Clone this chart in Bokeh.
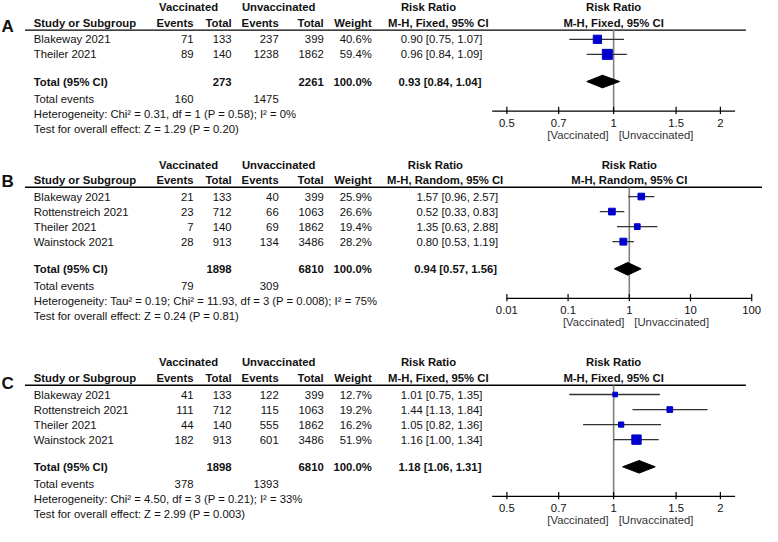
import math
from bokeh.plotting import figure
from bokeh.models import Range1d, LogScale
from bokeh.core.properties import value
from bokeh.embed import file_html
from bokeh.resources import INLINE

# ---------------- data ----------------
A_studies = ["Blakeway 2021", "Theiler 2021"]
A_vac_events = [71, 89]
A_vac_total = [133, 140]
A_unv_events = [237, 1238]
A_unv_total = [399, 1862]
A_weight = [40.6, 59.4]
A_rr = [0.90, 0.96]
A_lo = [0.75, 0.84]
A_hi = [1.07, 1.09]
A_sum = [160, 273, 1475, 2261, 0.93, 0.84, 1.04]   # vac ev, vac tot, unv ev, unv tot, rr, lo, hi
A_method = "M-H, Fixed, 95% CI"
A_het = "Heterogeneity: Chi\u00b2 = 0.31, df = 1 (P = 0.58); I\u00b2 = 0%"
A_test = "Test for overall effect: Z = 1.29 (P = 0.20)"
A_ticks = [0.5, 0.7, 1, 1.5, 2]
A_tick_labels = ["0.5", "0.7", "1", "1.5", "2"]
A_limits = [0.4545, 2.2]

B_studies = ["Blakeway 2021", "Rottenstreich 2021", "Theiler 2021", "Wainstock 2021"]
B_vac_events = [21, 23, 7, 28]
B_vac_total = [133, 712, 140, 913]
B_unv_events = [40, 66, 69, 134]
B_unv_total = [399, 1063, 1862, 3486]
B_weight = [25.9, 26.6, 19.4, 28.2]
B_rr = [1.57, 0.52, 1.35, 0.80]
B_lo = [0.96, 0.33, 0.63, 0.53]
B_hi = [2.57, 0.83, 2.88, 1.19]
B_sum = [79, 1898, 309, 6810, 0.94, 0.57, 1.56]
B_method = "M-H, Random, 95% CI"
B_het = "Heterogeneity: Tau\u00b2 = 0.19; Chi\u00b2 = 11.93, df = 3 (P = 0.008); I\u00b2 = 75%"
B_test = "Test for overall effect: Z = 0.24 (P = 0.81)"
B_ticks = [0.01, 0.1, 1, 10, 100]
B_tick_labels = ["0.01", "0.1", "1", "10", "100"]
B_limits = [0.01, 100]

C_studies = ["Blakeway 2021", "Rottenstreich 2021", "Theiler 2021", "Wainstock 2021"]
C_vac_events = [41, 111, 44, 182]
C_vac_total = [133, 712, 140, 913]
C_unv_events = [122, 115, 555, 601]
C_unv_total = [399, 1063, 1862, 3486]
C_weight = [12.7, 19.2, 16.2, 51.9]
C_rr = [1.01, 1.44, 1.05, 1.16]
C_lo = [0.75, 1.13, 0.82, 1.00]
C_hi = [1.35, 1.84, 1.36, 1.34]
C_sum = [378, 1898, 1393, 6810, 1.18, 1.06, 1.31]
C_method = "M-H, Fixed, 95% CI"
C_het = "Heterogeneity: Chi\u00b2 = 4.50, df = 3 (P = 0.21); I\u00b2 = 33%"
C_test = "Test for overall effect: Z = 2.99 (P = 0.003)"
C_ticks = [0.5, 0.7, 1, 1.5, 2]
C_tick_labels = ["0.5", "0.7", "1", "1.5", "2"]
C_limits = [0.4545, 2.2]

panels = [
    dict(letter="A", studies=A_studies, ve=A_vac_events, vt=A_vac_total, ue=A_unv_events, ut=A_unv_total,
         w=A_weight, rr=A_rr, lo=A_lo, hi=A_hi, sm=A_sum, method=A_method, het=A_het, test=A_test,
         ticks=A_ticks, tl=A_tick_labels, lim=A_limits),
    dict(letter="B", studies=B_studies, ve=B_vac_events, vt=B_vac_total, ue=B_unv_events, ut=B_unv_total,
         w=B_weight, rr=B_rr, lo=B_lo, hi=B_hi, sm=B_sum, method=B_method, het=B_het, test=B_test,
         ticks=B_ticks, tl=B_tick_labels, lim=B_limits),
    dict(letter="C", studies=C_studies, ve=C_vac_events, vt=C_vac_total, ue=C_unv_events, ut=C_unv_total,
         w=C_weight, rr=C_rr, lo=C_lo, hi=C_hi, sm=C_sum, method=C_method, het=C_het, test=C_test,
         ticks=C_ticks, tl=C_tick_labels, lim=C_limits),
]

# ---------------- layout (reference pixel units) ----------------
layouts = [
    dict(top=7, letter_y=27, line_right=761, axis_px=(502, 750), rr_right=492, rr_head=437, rr_method=447),
    dict(top=169, letter_y=186, line_right=778, axis_px=(517, 767), rr_right=508, rr_head=444, rr_method=454),
    dict(top=373, letter_y=395, line_right=761, axis_px=(502, 750), rr_right=492, rr_head=437, rr_method=447),
]

REF_W, REF_H = 778, 542
FONT = "Liberation Sans"
FS = "11.3px"
TXT = "#111111"

COL_STUDY = 34
COL_VE, COL_VT, COL_UE, COL_UT, COL_W = 197, 236, 284, 330, 379
GRP_VAC, GRP_UNV = 192, 284

p = figure(width=762, height=526, x_range=Range1d(0, REF_W), y_range=Range1d(REF_H, 0),
           output_backend="svg", toolbar_location=None, min_border=0,
           x_axis_location=None, y_axis_location=None)
p.grid.visible = False
p.outline_line_color = None
p.background_fill_color = "white"
p.border_fill_color = "white"

texts = {}


def add_text(x, y, s, align="left", bold=False, rng="default", size=FS):
    key = (align, bold, rng, size)
    d = texts.setdefault(key, dict(x=[], y=[], text=[]))
    d["x"].append(x)
    d["y"].append(y)
    d["text"].append(s)


def forest_range(px0, px1, v0, v1):
    k = (px1 - px0) / math.log(v1 / v0)
    c = px0 - k * math.log(v0)
    return Range1d(math.exp((0 - c) / k), math.exp((REF_W - c) / k))


extra_r, extra_s = {}, {}
for pan, lay in zip(panels, layouts):
    name = "f" + pan["letter"]
    extra_r[name] = forest_range(lay["axis_px"][0], lay["axis_px"][1], pan["lim"][0], pan["lim"][1])
    extra_s[name] = LogScale()
p.extra_x_ranges = extra_r
p.extra_x_scales = extra_s

for pan, lay in zip(panels, layouts):
    rn = "f" + pan["letter"]
    top = lay["top"]
    ycol = top + 16
    yline = top + 23.5
    first = top + 33
    n = len(pan["studies"])
    rows = [first + i * 15.5 for i in range(n)]
    ytot = rows[-1] + 28
    yaxis = ytot + 30.5

    # panel letter
    add_text(1, lay["letter_y"], pan["letter"], "left", True, size="17px")

    # headers
    add_text(GRP_VAC, top, "Vaccinated", "center", True)
    add_text(GRP_UNV, top, "Unvaccinated", "center", True)
    add_text(lay["rr_head"], top, "Risk Ratio", "center", True)
    add_text(1, top, "Risk Ratio", "center", True, rng=rn)
    add_text(COL_STUDY, ycol, "Study or Subgroup", "left", True)
    add_text(COL_VE, ycol, "Events", "right", True)
    add_text(COL_VT, ycol, "Total", "right", True)
    add_text(COL_UE, ycol, "Events", "right", True)
    add_text(COL_UT, ycol, "Total", "right", True)
    add_text(COL_W, ycol, "Weight", "right", True)
    add_text(lay["rr_method"], ycol, pan["method"], "center", True)
    add_text(1, ycol, pan["method"], "center", True, rng=rn)

    p.segment(x0=[25], y0=[yline], x1=[lay["line_right"]], y1=[yline], line_color="#000000", line_width=1.4)

    # study rows
    for i in range(n):
        y = rows[i]
        add_text(COL_STUDY, y, pan["studies"][i])
        add_text(COL_VE, y, str(pan["ve"][i]), "right")
        add_text(COL_VT, y, str(pan["vt"][i]), "right")
        add_text(COL_UE, y, str(pan["ue"][i]), "right")
        add_text(COL_UT, y, str(pan["ut"][i]), "right")
        add_text(COL_W, y, f"{pan['w'][i]:.1f}%", "right")
        add_text(lay["rr_right"], y, f"{pan['rr'][i]:.2f} [{pan['lo'][i]:.2f}, {pan['hi'][i]:.2f}]", "right")

    sm = pan["sm"]
    add_text(COL_STUDY, ytot, "Total (95% CI)", "left", True)
    add_text(COL_VT, ytot, str(sm[1]), "right", True)
    add_text(COL_UT, ytot, str(sm[3]), "right", True)
    add_text(COL_W, ytot, "100.0%", "right", True)
    add_text(lay["rr_right"] - 1, ytot, f"{sm[4]:.2f} [{sm[5]:.2f}, {sm[6]:.2f}]", "right", True)
    add_text(COL_STUDY, ytot + 17.5, "Total events")
    add_text(COL_VE, ytot + 17.5, str(sm[0]), "right")
    add_text(COL_UE, ytot + 17.5, str(sm[2]), "right")
    add_text(COL_STUDY, ytot + 33, pan["het"])
    add_text(COL_STUDY, ytot + 48.5, pan["test"])

    # forest: line of no effect
    p.segment(x0=[1], y0=[yline], x1=[1], y1=[yaxis], x_range_name=rn,
              line_color="#808080", line_width=1.6)
    # CIs
    p.segment(x0=pan["lo"], y0=rows, x1=pan["hi"], y1=rows, x_range_name=rn,
              line_color="#333333", line_width=1.3)
    sizes = [1.3 * math.sqrt(w) for w in pan["w"]]
    p.scatter(x=pan["rr"], y=rows, size=sizes, marker="square", x_range_name=rn,
              fill_color="#0000CC", line_color="#0000CC")
    # diamond
    p.patches(xs=[[sm[5], sm[4], sm[6], sm[4]]], ys=[[ytot, ytot - 6.5, ytot, ytot + 6.5]],
              x_range_name=rn, fill_color="#000000", line_color="#000000")
    # axis
    p.segment(x0=[pan["lim"][0]], y0=[yaxis], x1=[pan["lim"][1]], y1=[yaxis], x_range_name=rn,
              line_color="#000000", line_width=1.3)
    nt = len(pan["ticks"])
    p.segment(x0=pan["ticks"], y0=[yaxis - 4.5] * nt, x1=pan["ticks"], y1=[yaxis + 3] * nt,
              x_range_name=rn, line_color="#000000", line_width=1.2)
    for t, tl in zip(pan["ticks"], pan["tl"]):
        add_text(t, yaxis + 12, tl, "center", False, rng=rn)
    # direction labels
    p.text(x=[1], y=[yaxis + 24.5], text=["[Vaccinated]"], x_range_name=rn, x_offset=-5,
           text_align="right", text_baseline="middle", text_font=value(FONT),
           text_font_size=FS, text_color="#333333")
    p.text(x=[1], y=[yaxis + 24.5], text=["[Unvaccinated]"], x_range_name=rn, x_offset=5,
           text_align="left", text_baseline="middle", text_font=value(FONT),
           text_font_size=FS, text_color="#333333")

for (align, bold, rng, size), d in texts.items():
    kw = {}
    if rng != "default":
        kw["x_range_name"] = rng
    p.text(x=d["x"], y=d["y"], text=d["text"], text_align=align, text_baseline="middle",
           text_font=value(FONT), text_font_size=size,
           text_font_style="bold" if bold else "normal", text_color=TXT, **kw)

open("out.html", "w").write(file_html(p, INLINE))
